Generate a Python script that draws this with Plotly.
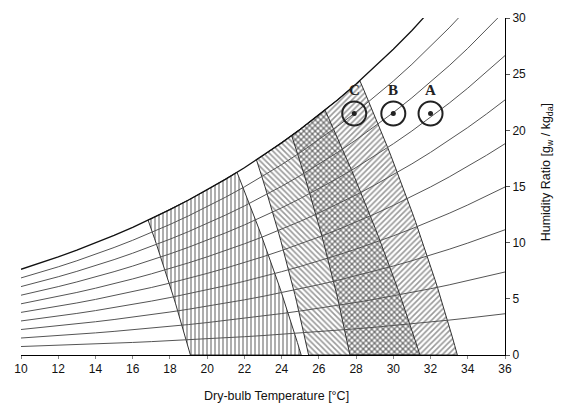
import numpy as np
import plotly.graph_objects as go

# ---- data ----
T_TABLE = list(range(10, 37))  # dry-bulb temperature, degC
PWS_KPA = [1.2282, 1.3129, 1.4028, 1.4981, 1.5990, 1.7058, 1.8188, 1.9384,
           2.0647, 2.1983, 2.3393, 2.4882, 2.6453, 2.8111, 2.9858, 3.1699,
           3.3639, 3.5681, 3.7831, 4.0092, 4.2470, 4.4969, 4.7596, 5.0354,
           5.3251, 5.6290, 5.9479]  # saturation vapour pressure, kPa
P_ATM = 101.325
RH_LEVELS = [10, 20, 30, 40, 50, 60, 70, 80, 90, 100]

# comfort zones: temperature where each boundary meets W=0 and the saturation curve
ZONE_BOTTOM_LEFT = [19.1, 25.45, 27.67]
ZONE_TOP_LEFT = [16.83, 22.65, 24.54]
ZONE_TOP_RIGHT = [21.6, 26.33, 28.2]
ZONE_BOTTOM_RIGHT = [25.05, 31.43, 33.44]
ZONE_HATCH = ["|", "\\", "/"]

POINT_LABELS = ["C", "B", "A"]
POINT_T = [27.9, 30.0, 32.0]
POINT_W = [21.5, 21.5, 21.5]

X_TICKS = list(range(10, 37, 2))
Y_TICKS = [0, 5, 10, 15, 20, 25, 30]

# ---- helpers ----
T_ARR = np.array(T_TABLE, dtype=float)
PWS = np.array(PWS_KPA)


def w_of(phi, pws):
    pw = phi * pws
    return 622.0 * pw / (P_ATM - pw)


def wsat(t):
    return w_of(1.0, np.interp(t, T_ARR, PWS))


CURV = -0.002


def edge(t0, ttop, n=30):
    wt = wsat(ttop)
    a = (ttop - t0 - CURV * wt ** 2) / wt
    w = np.linspace(0, wt, n)
    return t0 + a * w + CURV * w ** 2, w


fig = go.Figure()

for bl, tl, tr, br, hatch in zip(ZONE_BOTTOM_LEFT, ZONE_TOP_LEFT, ZONE_TOP_RIGHT,
                                 ZONE_BOTTOM_RIGHT, ZONE_HATCH):
    lx, ly = edge(bl, tl)
    rx, ry = edge(br, tr)
    st = [tl] + [t for t in T_TABLE if tl < t < tr] + [tr]
    sx = np.array(st, dtype=float)
    sy = wsat(sx)
    xs = np.concatenate([lx, sx, rx[::-1], [lx[0]]])
    ys = np.concatenate([ly, sy, ry[::-1], [ly[0]]])
    fig.add_trace(go.Scatter(
        x=xs, y=ys, mode="lines", fill="toself",
        line=dict(color="#333333", width=1),
        fillcolor="rgba(0,0,0,0)",
        fillpattern=dict(shape=hatch, size=4, solidity=0.4, fgcolor="#333333"),
        hoverinfo="skip", showlegend=False))

for rh in RH_LEVELS:
    w = w_of(rh / 100.0, PWS)
    sat = rh == 100
    fig.add_trace(go.Scatter(
        x=T_ARR, y=w, mode="lines",
        line=dict(color="#111111" if sat else "#555555", width=1.3 if sat else 1),
        hoverinfo="skip", showlegend=False))

fig.add_trace(go.Scatter(
    x=POINT_T, y=POINT_W, mode="markers",
    marker=dict(symbol="circle-open", size=24, color="#222222",
                line=dict(width=2, color="#222222")),
    hoverinfo="skip", showlegend=False))
fig.add_trace(go.Scatter(
    x=POINT_T, y=POINT_W, mode="markers",
    marker=dict(symbol="circle", size=5, color="#222222"),
    hoverinfo="skip", showlegend=False))

for lab, t, w in zip(POINT_LABELS, POINT_T, POINT_W):
    fig.add_annotation(x=t, y=w, text="<b>%s</b>" % lab, showarrow=False,
                       yshift=23, font=dict(family="Liberation Serif", size=15, color="#222222"))

fig.add_annotation(xref="paper", yref="paper", x=0.527, y=-0.122,
                   text="Dry-bulb Temperature [°C]", showarrow=False,
                   xanchor="center", yanchor="middle",
                   font=dict(family="Liberation Sans", size=12.5, color="#111111"))
fig.add_annotation(xref="paper", yref="paper", x=1.086, y=0.541,
                   text="Humidity Ratio [g<sub>w</sub> / kg<sub>da</sub>]", showarrow=False,
                   textangle=-90, xanchor="center", yanchor="middle",
                   font=dict(family="Liberation Sans", size=12.5, color="#111111"))

fig.update_layout(
    width=570, height=407,
    margin=dict(l=21, r=65, t=11, b=52),
    paper_bgcolor="white", plot_bgcolor="white",
    showlegend=False,
    font=dict(family="Liberation Sans", size=12, color="#111111"),
    xaxis=dict(range=[10, 36], tickvals=X_TICKS, ticks="outside", ticklen=3,
               tickcolor="#888888", showline=True, linecolor="black", linewidth=1,
               showgrid=False, zeroline=False),
    yaxis=dict(range=[0, 30], tickvals=Y_TICKS, side="right", ticks="outside",
               ticklen=4, tickcolor="#555555", showline=True, linecolor="black",
               linewidth=1, showgrid=False, zeroline=False),
)

# remove the browser's default 8px body margin so the figure fills the window
fig.write_html("out.html", config={"displayModeBar": False},
               post_script="document.body.style.margin='0px';")
